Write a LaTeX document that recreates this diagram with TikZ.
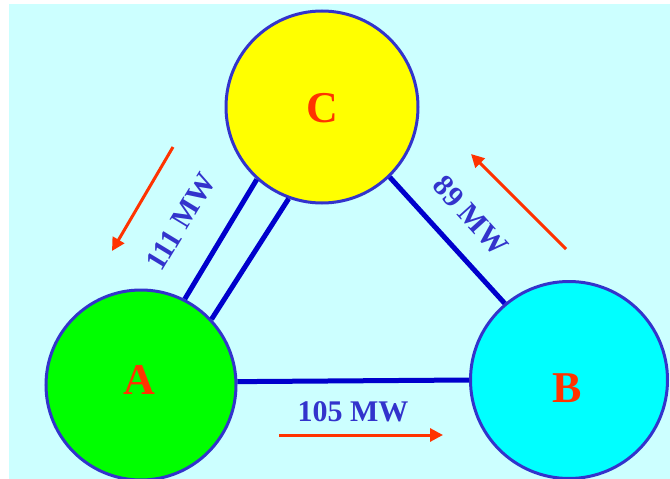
\documentclass[tikz,border=0pt]{standalone}
\usepackage{fontspec}
\setmainfont{Liberation Serif}
\usetikzlibrary{arrows.meta}
\definecolor{bgcyan}{HTML}{CCFFFF}
\definecolor{rimblue}{HTML}{3333CC}
\definecolor{lineblue}{HTML}{0000CC}
\definecolor{flowred}{HTML}{FF3300}
\definecolor{yel}{HTML}{FFFF00}
\definecolor{grn}{HTML}{00FF00}
\definecolor{cyn}{HTML}{00FFFF}
\tikzset{
  bus/.style={circle, draw=rimblue, line width=3pt, inner sep=0pt},
  letter/.style={font=\fontsize{44}{44}\selectfont\bfseries, text=flowred, inner sep=0pt},
  tie/.style={draw=lineblue, line width=5pt},
  flow/.style={draw=flowred, line width=3pt, -{Triangle[length=13pt,width=13pt]}},
  mw/.style={font=\fontsize{30}{30}\selectfont\bfseries, text=rimblue, inner sep=0pt}
}
\begin{document}
\begin{tikzpicture}[x=1pt,y=-1pt]
\useasboundingbox (0,0) rectangle (670,479);
\fill[bgcyan] (9,4) rectangle (670,479);
\node[bus, fill=yel, minimum size=192pt] (C) at (322,107) {};
\node[bus, fill=grn, minimum size=190pt] (A) at (141,385) {};
\node[bus, fill=cyn, minimum size=197pt] (B) at (569,380) {};
\node[letter] (Ct) at (322,108) {C};
\node[letter] (At) at (139,380) {A};
\node[letter] (Bt) at (567,388) {B};
\draw[tie] (A.2.4) -- (B.180);
\draw[tie] (C.-46) -- (B.130);
\draw[tie] (C.228.6) -- (A.63.2);
\draw[tie] (C.250) -- (A.43);
\node[mw, rotate=58.7] (l111) at (181,222) {111 MW};
\node[mw, rotate=-48] (l89) at (471,216) {89 MW};
\node[mw] (l105) at (353,412) {105 MW};
\coordinate (f1s) at (173,147);
\coordinate (f1e) at (112,251);
\coordinate (f2s) at (566,249);
\coordinate (f2e) at (471,154);
\coordinate (f3s) at (279,435);
\coordinate (f3e) at (443,435);
\draw[flow] (f1s) -- (f1e);
\draw[flow] (f2s) -- (f2e);
\draw[flow] (f3s) -- (f3e);
\end{tikzpicture}
\end{document}
